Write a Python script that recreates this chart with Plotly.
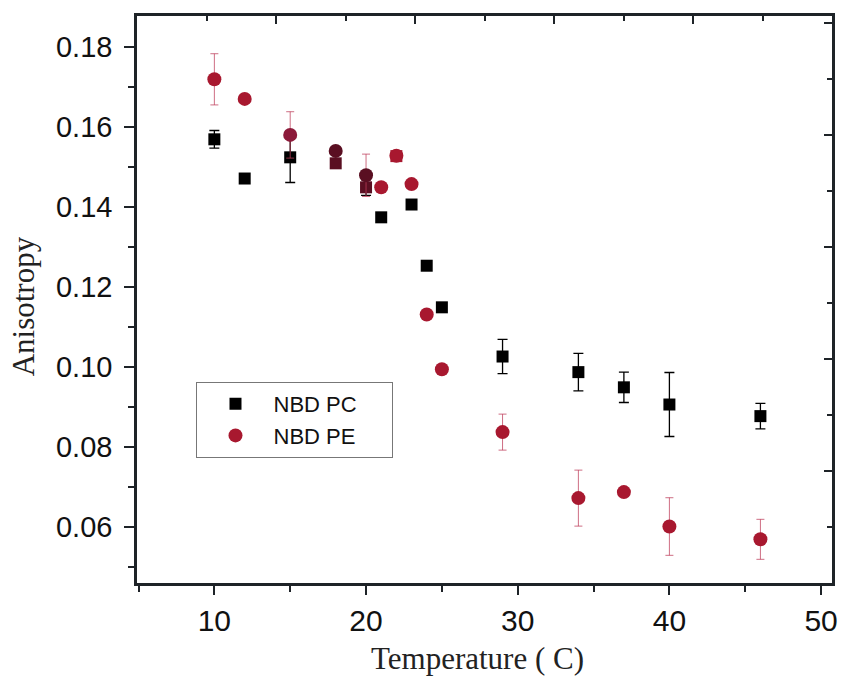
import plotly.graph_objects as go

# ---- data ----
temp_pc = [10, 12, 15, 18, 20, 21, 22, 23, 24, 25, 29, 34, 37, 40, 46]
aniso_pc = [0.1570, 0.1472, 0.1525, 0.1510, 0.1450, 0.1375, 0.1528, 0.1407, 0.1254, 0.1150,
            0.1027, 0.0988, 0.0950, 0.0907, 0.0878]
err_pc = [0.0022, 0, 0.0063, 0, 0.0020, 0, 0, 0, 0, 0,
          0.0043, 0.0047, 0.0038, 0.0080, 0.0032]

temp_pe = [10, 12, 15, 18, 20, 21, 22, 23, 24, 25, 29, 34, 37, 40, 46]
aniso_pe = [0.1720, 0.1671, 0.1581, 0.1541, 0.1480, 0.1450, 0.1529, 0.1458, 0.1132, 0.0995,
            0.0838, 0.0673, 0.0688, 0.0602, 0.0570]
err_pe = [0.0064, 0, 0.0058, 0, 0.0053, 0, 0, 0, 0, 0,
          0.0045, 0.0070, 0, 0.0072, 0.0050]

series_names = ["NBD PC", "NBD PE"]

RED = "#a8182f"
MAROON = "#5a0f22"
colors_pc = ["#000000"] * len(temp_pc)
colors_pe = [RED] * len(temp_pe)
for i, t in enumerate(temp_pc):
    if t in (18, 20):
        colors_pc[i] = MAROON
    if t == 22:
        colors_pc[i] = RED
for i, t in enumerate(temp_pe):
    if t in (18, 20):
        colors_pe[i] = MAROON
    if t == 15:
        colors_pe[i] = "#8c1a3a"

pad = "\u00a0" * 5

fig = go.Figure()
fig.add_trace(go.Scatter(
    x=temp_pc, y=aniso_pc, mode="markers", name=series_names[0] + pad,
    marker=dict(symbol="square", size=12, color=colors_pc, line=dict(width=0)),
    error_y=dict(type="data", array=err_pc, visible=True, color="#000000",
                 thickness=1.3, width=5),
))
fig.add_trace(go.Scatter(
    x=temp_pe, y=aniso_pe, mode="markers", name=series_names[1] + pad,
    marker=dict(symbol="circle", size=14, color=colors_pe, line=dict(width=0)),
    error_y=dict(type="data", array=err_pe, visible=True, color="rgba(190,60,90,0.75)",
                 thickness=1, width=4),
))

# invisible trace to activate mirror axes (top / right with their own tick spacing)
fig.add_trace(go.Scatter(x=[None], y=[None], xaxis="x2", yaxis="y2",
                         showlegend=False, hoverinfo="skip"))

axis_col = "#1e2328"
fig.update_layout(
    width=845, height=678,
    margin=dict(l=137, r=7, t=16, b=95),
    plot_bgcolor="white", paper_bgcolor="white",
    font=dict(family="Liberation Sans, Arial, sans-serif", color="#111111"),
    showlegend=True,
    legend=dict(
        x=0.0856, y=0.3545, xanchor="left", yanchor="top",
        bgcolor="white", bordercolor="#777777", borderwidth=1,
        font=dict(size=22, family="Liberation Sans, Arial, sans-serif", color="#111111"),
        itemwidth=66, tracegroupgap=0,
    ),
    xaxis=dict(
        range=[4.9, 50.72], tickvals=[10, 20, 30, 40, 50],
        ticks="outside", ticklen=9, tickwidth=2, tickcolor=axis_col,
        minor=dict(tickvals=[5, 15, 25, 35, 45], ticks="outside", ticklen=6, tickwidth=2,
                   tickcolor=axis_col),
        showline=True, linewidth=2.5, linecolor=axis_col, mirror=False,
        showgrid=False, zeroline=False,
        tickfont=dict(size=30, family="Liberation Sans, Arial, sans-serif", color="#111111"),
        title=dict(text=""),
    ),
    yaxis=dict(
        range=[0.04608, 0.18783], tickvals=[0.06, 0.08, 0.10, 0.12, 0.14, 0.16, 0.18],
        ticktext=["0.06", "0.08", "0.10", "0.12", "0.14", "0.16", "0.18"],
        ticks="outside", ticklen=10, tickwidth=2, tickcolor=axis_col,
        minor=dict(tickvals=[0.05, 0.07, 0.09, 0.11, 0.13, 0.15, 0.17], ticks="outside",
                   ticklen=6, tickwidth=2, tickcolor=axis_col),
        showline=True, linewidth=2.5, linecolor=axis_col, mirror=False,
        showgrid=False, zeroline=False, ticklabelstandoff=6,
        tickfont=dict(size=29, family="Liberation Sans, Arial, sans-serif", color="#111111"),
        title=dict(text=""),
    ),
    xaxis2=dict(
        overlaying="x", side="top", anchor="y", range=[0, 10],
        tickvals=[2, 4, 6, 8], ticks="inside", ticklen=8, tickwidth=2, tickcolor=axis_col,
        minor=dict(tickvals=[1, 3, 5, 7, 9], ticks="inside", ticklen=5, tickwidth=2,
                   tickcolor=axis_col),
        showticklabels=False, showline=True, linewidth=2.5, linecolor=axis_col,
        showgrid=False, zeroline=False,
    ),
    yaxis2=dict(
        overlaying="y", side="right", anchor="x", range=[0, 10.125],
        tickvals=[2, 4, 6, 8, 10], ticks="inside", ticklen=8, tickwidth=2, tickcolor=axis_col,
        minor=dict(tickvals=[1, 3, 5, 7, 9], ticks="inside", ticklen=5, tickwidth=2,
                   tickcolor=axis_col),
        showticklabels=False, showline=True, linewidth=2.5, linecolor=axis_col,
        showgrid=False, zeroline=False,
    ),
    annotations=[
        dict(text="Temperature ( C)", xref="paper", yref="paper", x=0.49, y=-0.133,
             xanchor="center", yanchor="middle", showarrow=False,
             font=dict(size=31, family="Liberation Serif, Times New Roman, serif",
                       color="#222222")),
        dict(text="Anisotropy", xref="paper", yref="paper", x=-0.164, y=0.488,
             xanchor="center", yanchor="middle", showarrow=False, textangle=-90,
             font=dict(size=31, family="Liberation Serif, Times New Roman, serif",
                       color="#222222")),
    ],
)

fig.write_html("out.html")
